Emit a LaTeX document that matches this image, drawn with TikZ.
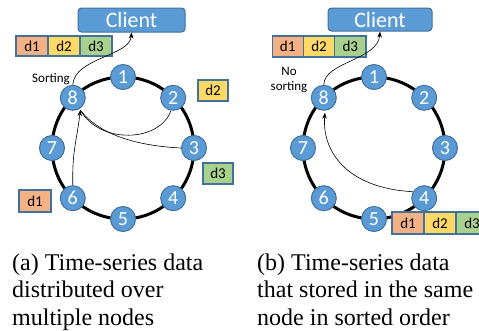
\documentclass[tikz,border=0pt]{standalone}
\usepackage{fontspec}
\setmainfont{Liberation Serif}
\newfontfamily\calfont{Carlito}
\usetikzlibrary{arrows.meta,calc}

\definecolor{nodeblue}{HTML}{5B9BD5}
\definecolor{edgeblue}{HTML}{41719C}
\definecolor{dorange}{HTML}{F4B183}
\definecolor{dyellow}{HTML}{FFD966}
\definecolor{dgreen}{HTML}{A9D18E}

\tikzset{
  ringnode/.style={circle, fill=nodeblue, draw=edgeblue, line width=1pt,
    minimum size=25pt, inner sep=0pt, text=white, font=\calfont\fontsize{20}{20}\selectfont},
  clientbox/.style={rectangle, rounded corners=3.5pt, fill=nodeblue, draw=edgeblue,
    line width=1pt, text=white, font=\calfont\fontsize{22}{22}\selectfont, inner sep=0pt},
  databox/.style={rectangle, draw=edgeblue, line width=1.1pt, inner sep=0pt,
    font=\calfont\fontsize{15}{15}\selectfont},
  ring/.style={line width=3pt, black},
  flow/.style={line width=0.6pt, black, -{Stealth[length=6pt,width=4.5pt]}},
  flowplain/.style={line width=0.6pt, black},
  note/.style={font=\calfont\fontsize{13}{15}\selectfont, align=center, inner sep=0pt},
  caption/.style={font=\fontsize{24}{27.5}\selectfont, align=left, anchor=base west, inner sep=0pt}
}

\begin{document}
\begin{tikzpicture}[x=1pt, y=-1pt]
\useasboundingbox (0,0) rectangle (479,330);

% ---------- (a) data spread over several nodes ----------
\draw[ring] (123,148) circle [radius=71];
\foreach \i/\a in {1/90,2/45,3/0,4/-45,5/-90,6/-135,7/180,8/135}
  \node[ringnode] (L\i) at ($(123,148)+({71*cos(\a)},{-71*sin(\a)})$) {\i};

\node[clientbox, minimum width=107pt, minimum height=24pt] (LC) at (131.5,20) {Client};

\node[databox, fill=dorange, minimum width=32pt, minimum height=20pt] (LA1) at (32,46) {d1};
\node[databox, fill=dyellow, minimum width=32pt, minimum height=20pt] (LA2) at (64,46) {d2};
\node[databox, fill=dgreen,  minimum width=32pt, minimum height=20pt] (LA3) at (96,46) {d3};

\node[databox, fill=dyellow, minimum width=30pt, minimum height=21pt] (LD2) at (213,90.5) {d2};
\node[databox, fill=dgreen,  minimum width=30pt, minimum height=21pt] (LD3) at (218,173.5) {d3};
\node[databox, fill=dorange, minimum width=32pt, minimum height=22pt] (LD1) at (35,201) {d1};

\node[note, anchor=east] (LS) at (70,79) {Sorting};

\coordinate (LT) at ($(L8.-60)+(1,1)$);
\draw[flowplain] (L2.-100) .. controls (160,142) and (100,145) .. (LT);
\draw[flowplain] (L3.west) .. controls (140,146) and (100,136) .. (LT);
\draw[flow] (L6.north) .. controls (72,150) and (77,140) .. (LT);
\draw[flow] (L8.north) .. controls (74,58) and (130,56) .. (LC.south);

% ---------- (b) data kept together on one node ----------
\draw[ring] (374,148) circle [radius=71];
\foreach \i/\a in {1/90,2/45,3/0,4/-45,5/-90,6/-135,7/180,8/135}
  \node[ringnode] (R\i) at ($(374,148)+({71*cos(\a)},{-71*sin(\a)})$) {\i};

\node[clientbox, minimum width=104pt, minimum height=23pt] (RC) at (380,19.5) {Client};

\node[databox, fill=dorange, minimum width=31.3pt, minimum height=21pt] (RA1) at (287.7,46.5) {d1};
\node[databox, fill=dyellow, minimum width=31.3pt, minimum height=21pt] (RA2) at (319,46.5) {d2};
\node[databox, fill=dgreen,  minimum width=31.3pt, minimum height=21pt] (RA3) at (350.3,46.5) {d3};

\node[databox, fill=dorange, minimum width=32pt, minimum height=22pt] (RB1) at (408,223) {d1};
\node[databox, fill=dyellow, minimum width=32pt, minimum height=22pt] (RB2) at (440,223) {d2};
\node[databox, fill=dgreen,  minimum width=32pt, minimum height=22pt] (RB3) at (472,223) {d3};

\node[note] (RS) at (289,80) {No\\sorting};

\draw[flow] (R4.150) .. controls (345,188) and (322,150) .. ($(R8.-85)+(0,2)$);
\draw[flow] (R8.north) .. controls (324,62) and (378,60) .. (RC.south);

% ---------- captions (anchored on the baseline of the last line) ----------
\node[caption] (CA) at (12,325) {(a) Time-series data\\distributed over\\multiple nodes};
\node[caption] (CB) at (257,325) {(b) Time-series data\\that stored in the same\\node in sorted order};
\end{tikzpicture}
\end{document}
